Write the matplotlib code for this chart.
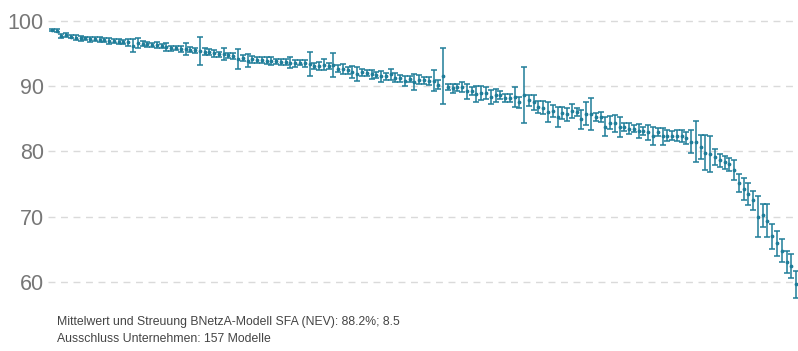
import matplotlib
matplotlib.use("Agg")
import matplotlib.pyplot as plt
import numpy as np

# Efficiency scores (%) per model, sorted descending, with spread (half width)
mean_values = [
    98.6, 98.5, 97.7, 97.8, 97.6, 97.4, 97.3, 97.3, 97.2, 97.2,
    97.1, 97.0, 96.9, 96.9, 96.8, 96.8, 96.7, 96.2, 96.6, 96.5,
    96.4, 96.3, 96.3, 96.2, 96.0, 95.8, 95.8, 95.7, 95.7, 95.6,
    95.5, 95.4, 95.3, 95.2, 95.0, 94.9, 94.9, 94.7, 94.6, 94.2,
    94.3, 93.9, 94.1, 94.0, 94.0, 93.9, 93.8, 93.8, 93.7, 93.7,
    93.6, 93.5, 93.6, 93.5, 93.4, 93.1, 93.1, 93.3, 93.1, 93.2,
    92.7, 92.6, 92.4, 92.2, 91.9, 92.1, 92.0, 91.8, 91.7, 91.5,
    91.5, 91.8, 91.3, 91.2, 90.8, 91.1, 90.6, 91.0, 90.9, 90.8,
    90.8, 90.2, 91.6, 89.9, 89.7, 89.8, 89.9, 89.2, 89.2, 88.8,
    88.9, 89.0, 88.3, 88.6, 88.6, 88.2, 88.2, 88.3, 87.5, 88.7,
    87.8, 87.5, 86.8, 86.7, 86.0, 86.2, 85.3, 85.9, 85.7, 86.2,
    86.0, 84.9, 85.8, 85.7, 85.3, 85.3, 83.8, 84.4, 84.3, 83.7,
    83.7, 83.5, 83.5, 83.1, 83.1, 82.9, 82.3, 83.0, 82.3, 82.4,
    82.4, 82.4, 82.4, 82.1, 81.5, 81.5, 80.7, 79.8, 79.6, 79.1,
    78.6, 78.3, 78.0, 77.1, 75.2, 74.2, 73.5, 72.5, 70.0, 70.2,
    69.4, 67.0, 65.9, 64.8, 63.1, 62.4, 59.6,
]
spread_values = [
    0.2, 0.2, 0.3, 0.3, 0.3, 0.4, 0.4, 0.3, 0.4, 0.3,
    0.4, 0.3, 0.4, 0.3, 0.4, 0.3, 0.5, 1.0, 0.8, 0.4,
    0.4, 0.3, 0.4, 0.3, 0.6, 0.4, 0.3, 0.5, 0.9, 0.4,
    0.4, 2.1, 0.5, 0.5, 0.6, 0.4, 0.9, 0.4, 0.5, 1.5,
    0.5, 1.0, 0.5, 0.4, 0.5, 0.5, 0.6, 0.4, 0.5, 0.4,
    0.8, 0.5, 0.4, 0.5, 1.85, 0.5, 0.6, 0.8, 0.5, 1.8,
    0.5, 0.8, 0.5, 0.9, 1.1, 0.5, 0.5, 0.7, 0.5, 0.8,
    0.5, 0.9, 0.7, 0.5, 0.8, 0.5, 1.2, 0.7, 0.5, 0.6,
    1.6, 0.7, 4.3, 0.5, 0.7, 0.5, 0.8, 1.1, 0.6, 1.2,
    1.1, 0.9, 1.1, 1.0, 0.6, 0.6, 0.6, 1.5, 0.9, 4.3,
    0.8, 1.2, 0.9, 1.0, 1.5, 0.9, 1.5, 0.9, 1.0, 1.1,
    0.6, 1.4, 1.8, 2.5, 0.6, 0.8, 1.4, 1.0, 1.3, 1.5,
    0.6, 0.8, 0.6, 1.1, 0.6, 1.2, 1.4, 0.6, 1.3, 0.8,
    0.7, 0.8, 0.9, 0.9, 1.7, 3.2, 1.8, 2.7, 2.8, 1.2,
    1.0, 1.0, 1.0, 1.5, 1.4, 1.7, 1.7, 1.5, 3.2, 1.8,
    2.6, 1.9, 1.9, 1.8, 1.7, 1.8, 2.1,
]
y_ticks = [60, 70, 80, 90, 100]
footer_lines = [
    "Mittelwert und Streuung BNetzA-Modell SFA (NEV): 88.2%; 8.5",
    "Ausschluss Unternehmen: 157 Modelle",
]

plt.rcParams["font.family"] = ["Liberation Sans", "DejaVu Sans"]

teal = "#1f7d99"
fig = plt.figure(figsize=(7.98, 3.51), dpi=100)
ax = fig.add_axes([0.06, 0.145, 0.94, 0.855])

x = np.arange(len(mean_values))
ax.errorbar(x, mean_values, yerr=spread_values, fmt="o", color=teal,
            ecolor=teal, markersize=1.7, elinewidth=1.1, capsize=2.4,
            capthick=1.1, zorder=3)

ax.set_xlim(-0.85, len(mean_values) - 0.6)
ax.set_ylim(57.2, 103.2)
ax.set_yticks(y_ticks)
ax.set_yticklabels([str(t) for t in y_ticks])
ax.set_xticks([])
ax.tick_params(axis="y", length=0, pad=3, labelsize=15.5, labelcolor="#777777")
ax.grid(axis="y", color="#dadada", linestyle=(0, (5, 4)), linewidth=1.0, zorder=0)
for side in ax.spines.values():
    side.set_visible(False)

for i, line in enumerate(footer_lines):
    fig.text(57 / 798, 1 - (322 + 17 * i) / 351, line, fontsize=8.85,
             color="#444444", va="center", ha="left")

fig.savefig("out.png", dpi=100)
